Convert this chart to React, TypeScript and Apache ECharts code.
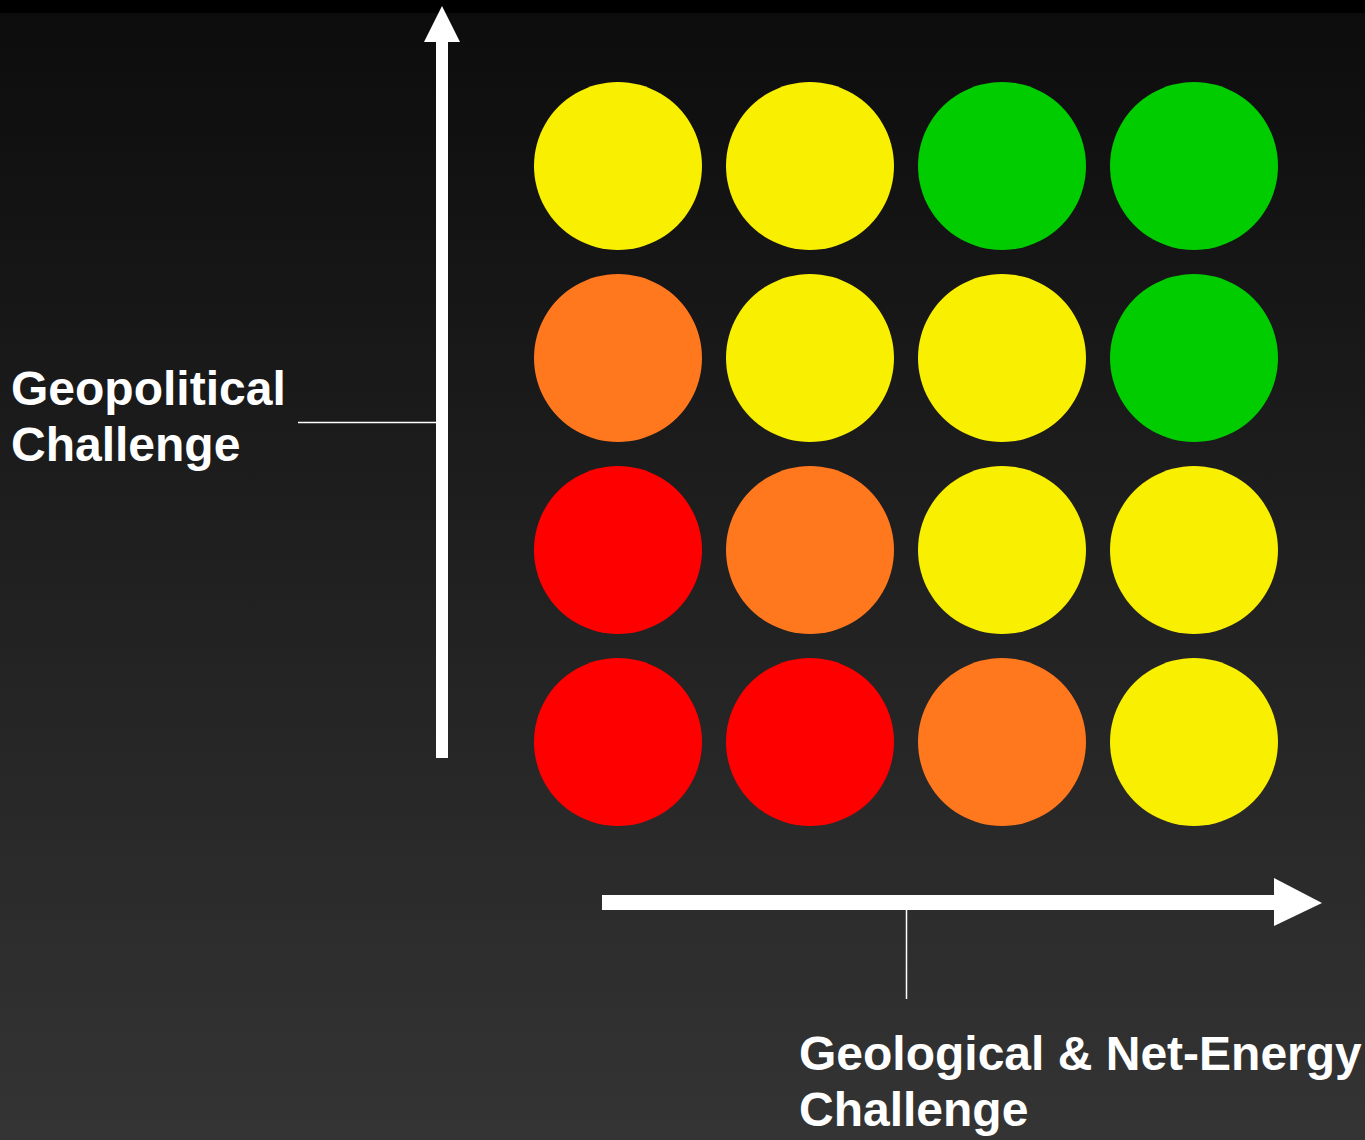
import React, { useEffect, useRef } from "react";
import * as echarts from "echarts";

const colNames = ["1", "2", "3", "4"];
const rowNames = ["1", "2", "3", "4"];
// ratings per cell: [col, row, level]; level 0=red,1=orange,2=yellow,3=green
const cells: [number, number, number][] = [
  [1, 4, 2], [2, 4, 2], [3, 4, 3], [4, 4, 3],
  [1, 3, 1], [2, 3, 2], [3, 3, 2], [4, 3, 3],
  [1, 2, 0], [2, 2, 1], [3, 2, 2], [4, 2, 2],
  [1, 1, 0], [2, 1, 0], [3, 1, 1], [4, 1, 2],
];
const levelColors = ["#FF0000", "#FF781E", "#F8F000", "#00CC00"];
const yLabelLines = ["Geopolitical", "Challenge"];
const xLabelLines = ["Geological & Net-Energy", "Challenge"];

export default function App() {
  const ref = useRef<HTMLDivElement>(null);
  useEffect(() => {
    document.body.style.margin = "0";
    const chart = echarts.init(ref.current!, null, { renderer: "svg" });
    const textStyle = {
      fill: "#fff",
      fontFamily: "Liberation Sans",
      fontWeight: "bold",
      fontSize: 48,
    };
    chart.setOption({
      animation: false,
      backgroundColor: {
        type: "linear", x: 0, y: 0, x2: 0, y2: 1,
        colorStops: [
          { offset: 0, color: "#0c0c0c" },
          { offset: 1, color: "#343434" },
        ],
      },
      grid: { left: 522, top: 70, width: 768, height: 768 },
      xAxis: { type: "value", min: 0.5, max: 4.5, show: false },
      yAxis: { type: "value", min: 0.5, max: 4.5, show: false },
      series: [
        {
          type: "scatter",
          symbol: "circle",
          symbolSize: 168,
          data: cells.map(([c, r, l]) => ({
            value: [c, r],
            itemStyle: { color: levelColors[l], opacity: 1 },
          })),
          silent: true,
        },
      ],
      graphic: [
        { type: "rect", shape: { x: 0, y: 0, width: 1365, height: 13 }, style: { fill: "#000" }, z: 0 },
        // vertical arrow
        { type: "rect", shape: { x: 436, y: 40, width: 12, height: 718 }, style: { fill: "#fff" } },
        { type: "polygon", shape: { points: [[442, 6], [460, 42], [424, 42]] }, style: { fill: "#fff" } },
        // horizontal arrow
        { type: "rect", shape: { x: 602, y: 895, width: 674, height: 15 }, style: { fill: "#fff" } },
        { type: "polygon", shape: { points: [[1274, 878], [1322, 903], [1274, 926]] }, style: { fill: "#fff" } },
        // connectors
        { type: "line", shape: { x1: 298, y1: 422.5, x2: 436, y2: 422.5 }, style: { stroke: "#fff", lineWidth: 1.5 } },
        { type: "line", shape: { x1: 906.5, y1: 910, x2: 906.5, y2: 999 }, style: { stroke: "#fff", lineWidth: 1.5 } },
        // labels
        ...yLabelLines.map((t, i) => ({
          type: "text", x: 11, y: 364 + i * 56,
          style: { text: t, ...textStyle },
        })),
        ...xLabelLines.map((t, i) => ({
          type: "text", x: 799, y: 1029 + i * 56,
          style: { text: t, ...textStyle },
        })),
      ],
    });
    return () => chart.dispose();
  }, []);
  return <div ref={ref} style={{ width: 1365, height: 1140 }} />;
}
